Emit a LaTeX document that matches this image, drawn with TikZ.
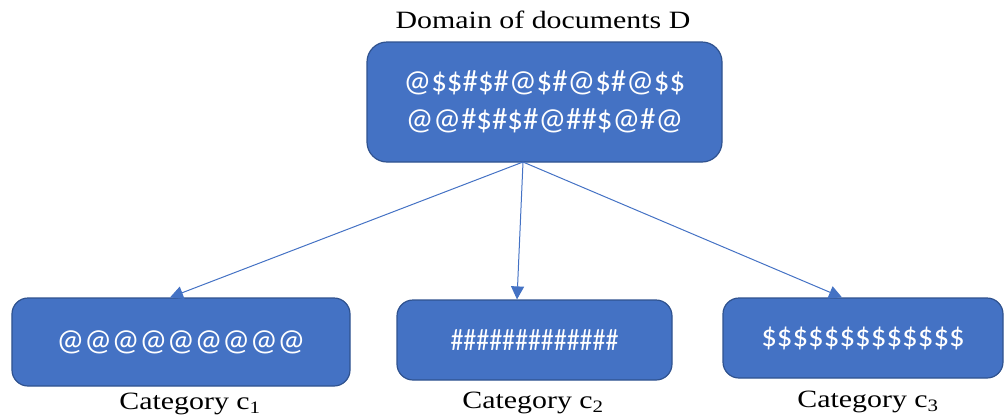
\documentclass[tikz,border=0pt]{standalone}
\usepackage{fontspec}
\setmainfont{Liberation Serif}[FakeStretch=1.2]
\newfontfamily\boxfont{Carlito}
\usetikzlibrary{arrows.meta}

\definecolor{boxfill}{HTML}{4472C4}
\definecolor{boxline}{HTML}{2F528F}

\tikzset{
  docbox/.style={draw=boxline, line width=1.2bp, fill=boxfill, rounded corners=16bp,
    text=white, font=\boxfont\fontsize{31}{38}\selectfont, align=center, inner sep=0pt},
  caption/.style={font=\fontsize{25}{30}\selectfont, inner sep=0pt},
  link/.style={draw=boxfill, line width=1bp, -{Triangle[length=13bp,width=13bp]}},
}

\begin{document}
\begin{tikzpicture}[x=1bp,y=-1bp]
  \useasboundingbox (0,0) rectangle (1005,416);

  % domain box
  \node[caption] (title) at (543,20) {Domain of documents D};
  \node[docbox, minimum width=355bp, minimum height=120bp, rounded corners=20bp] (dom) at (544.5,102)
    {@\$\$\#\$\#@\$\#@\$\#@\$\$\\@@\#\$\#\$\#@\#\#\$@\#@};

  % categories
  \node[docbox, minimum width=338bp, minimum height=88bp] (c1) at (181,342) {@@@@@@@@@};
  \node[docbox, minimum width=275bp, minimum height=80bp] (c2) at (534.5,340)
    {\scalebox{0.84}[1]{\#\#\#\#\#\#\#\#\#\#\#\#\#}};
  \node[docbox, minimum width=280bp, minimum height=80bp] (c3) at (863,338) {\$\$\$\$\$\$\$\$\$\$\$\$\$};

  \node[caption] (c1lab) at (190,404) {Category c\textsubscript{1}};
  \node[caption] (c2lab) at (533,403) {Category c\textsubscript{2}};
  \node[caption] (c3lab) at (868,402) {Category c\textsubscript{3}};

  % arrows
  \coordinate (src) at (523,162);
  \draw[link] (src) -- ([xshift=-11bp]c1.north);
  \draw[link] (src) -- ([xshift=-17.5bp]c2.north);
  \draw[link] (src) -- ([xshift=-21bp]c3.north);
\end{tikzpicture}
\end{document}
